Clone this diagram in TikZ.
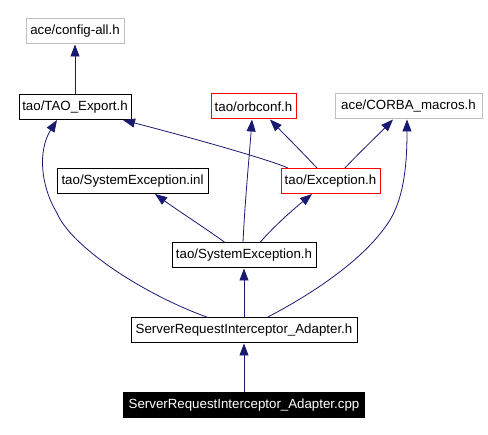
\documentclass[tikz,border=0pt]{standalone}
\usepackage{fontspec}
\setmainfont{Liberation Sans}
\usetikzlibrary{arrows.meta}
\definecolor{edgeblue}{HTML}{191970}
\definecolor{greyline}{HTML}{BFBFBF}
\begin{document}
\begin{tikzpicture}[x=1pt,y=-1pt,
  box/.style={draw=black,line width=1pt,fill=white,inner sep=0pt,minimum height=25pt,font=\fontsize{13.3}{16}\selectfont},
  greybox/.style={box,draw=greyline},
  redbox/.style={box,draw=red},
  darkbox/.style={box,fill=black,text=white},
  dep/.style={draw=edgeblue,line width=0.8pt,-{Triangle[length=12pt,width=9pt]}}]
\useasboundingbox (0,0) rectangle (488,435);
\node[greybox,minimum width=98pt] (cfg) at (75,31.5) {ace/config-all.h};
\node[box,minimum width=112pt] (tao) at (75,107) {tao/TAO\_Export.h};
\node[redbox,minimum width=85pt] (orb) at (253.5,106.5) {tao/orbconf.h};
\node[greybox,minimum width=147pt] (cm) at (408.5,106.5) {ace/CORBA\_macros.h};
\node[box,minimum width=151pt] (inl) at (132.5,181) {tao/SystemException.inl};
\node[redbox,minimum width=99pt] (exc) at (330.5,181) {tao/Exception.h};
\node[box,minimum width=144pt] (se) at (244,255.5) {tao/SystemException.h};
\node[box,minimum width=226pt] (sria) at (244,330.5) {ServerRequestInterceptor\_Adapter.h};
\node[darkbox,minimum width=241pt] (cpp) at (244,405.5) {ServerRequestInterceptor\_Adapter.cpp};

\draw[dep] (tao.north) -- (cfg.south);
\draw[dep] ([xshift=-42.5pt]exc.north) .. controls (270,160) and (200,140) .. ([xshift=48pt]tao.south);
\draw[dep] ([xshift=-13.5pt]exc.north) .. controls (300,150) and (285,135) .. ([xshift=16.5pt]orb.south);
\draw[dep] ([xshift=14.5pt]exc.north) .. controls (360,152) and (378,135) .. ([xshift=-15.5pt]cm.south);
\draw[dep] ([xshift=-1pt]se.north) .. controls (245,200) and (249,160) .. ([xshift=-1.5pt]orb.south);
\draw[dep] ([xshift=16pt]se.north) .. controls (275,225) and (295,208) .. ([xshift=-18.5pt]exc.south);
\draw[dep] ([xshift=-19pt]se.north) .. controls (205,228) and (180,212) .. ([xshift=22.5pt]inl.south);
\draw[dep] (sria.north) -- (se.south);
\draw[dep] ([xshift=-36pt]sria.north) .. controls (140,293) and (70,245) .. (57,213) .. controls (40,185) and (38,150) .. ([xshift=-18pt]tao.south);
\draw[dep] ([xshift=23pt]sria.north) .. controls (310,295) and (365,260) .. (390,220) .. controls (405,195) and (407,160) .. ([xshift=-1.5pt]cm.south);
\draw[dep] (cpp.north) -- (sria.south);
\end{tikzpicture}
\end{document}
